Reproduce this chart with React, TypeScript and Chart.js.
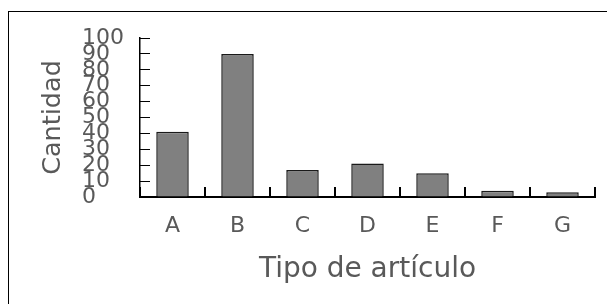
import React, { useEffect, useRef } from "react";
import { Chart, registerables } from "chart.js";

Chart.register(...registerables);

const categories = ["A", "B", "C", "D", "E", "F", "G"];
const cantidad = [41, 90, 17, 21, 15, 4, 3];
const yMin = 0;
const yMax = 100;
const yStep = 10;
const xTitle = "Tipo de artículo";
const yTitle = "Cantidad";

const FONT = "'DejaVu Sans', Verdana, sans-serif";
const TEXT = "#595959";

export default function App() {
  const ref = useRef<HTMLCanvasElement | null>(null);

  useEffect(() => {
    document.body.style.overflow = "hidden";
    document.documentElement.style.overflow = "hidden";
    const canvas = ref.current;
    if (!canvas) return;
    const chart = new Chart(canvas, {
      type: "bar",
      data: {
        labels: categories,
        datasets: [
          {
            label: yTitle,
            data: cantidad,
            backgroundColor: "#808080",
            borderColor: "#1a1a1a",
            borderWidth: 1.5,
            barPercentage: 0.5,
            categoryPercentage: 1,
          },
        ],
      },
      options: {
        responsive: false,
        animation: false,
        layout: { padding: { left: 73, top: 26, right: 20, bottom: 23.6 } },
        plugins: { legend: { display: false }, tooltip: { enabled: false } },
        scales: {
          x: {
            grid: {
              drawOnChartArea: false,
              tickLength: -10,
              color: "#000",
              lineWidth: 2,
              offset: true,
            },
            border: { color: "#000", width: 2 },
            ticks: {
              color: TEXT,
              font: { family: FONT, size: 22 },
              padding: 26,
              autoSkip: false,
              maxRotation: 0,
            },
            title: {
              display: true,
              text: xTitle,
              color: TEXT,
              font: { family: FONT, size: 28 },
              padding: { top: 0, bottom: 2 },
            },
            afterFit: (s: any) => {
              s.height = 91.4;
            },
          },
          y: {
            min: yMin,
            max: yMax,
            grid: {
              drawOnChartArea: false,
              tickLength: -10,
              color: "#000",
              lineWidth: 1,
            },
            border: { color: "#000", width: 1.5 },
            ticks: {
              stepSize: yStep,
              autoSkip: false,
              crossAlign: "far",
              color: TEXT,
              font: { family: FONT, size: 22 },
            },
            title: {
              display: true,
              text: yTitle,
              color: TEXT,
              font: { family: FONT, size: 25.5 },
              padding: { top: -44, bottom: 0 },
            },
            afterFit: (s: any) => {
              s.width = 58;
            },
          },
        },
      },
    } as any);
    return () => chart.destroy();
  }, []);

  return (
    <div
      style={{
        marginTop: 3,
        width: 606,
        height: 300,
        borderTop: "1px solid #000",
        borderLeft: "1px solid #000",
        position: "relative",
      }}
    >
      <canvas ref={ref} width={606} height={300} style={{ display: "block" }} />
    </div>
  );
}
